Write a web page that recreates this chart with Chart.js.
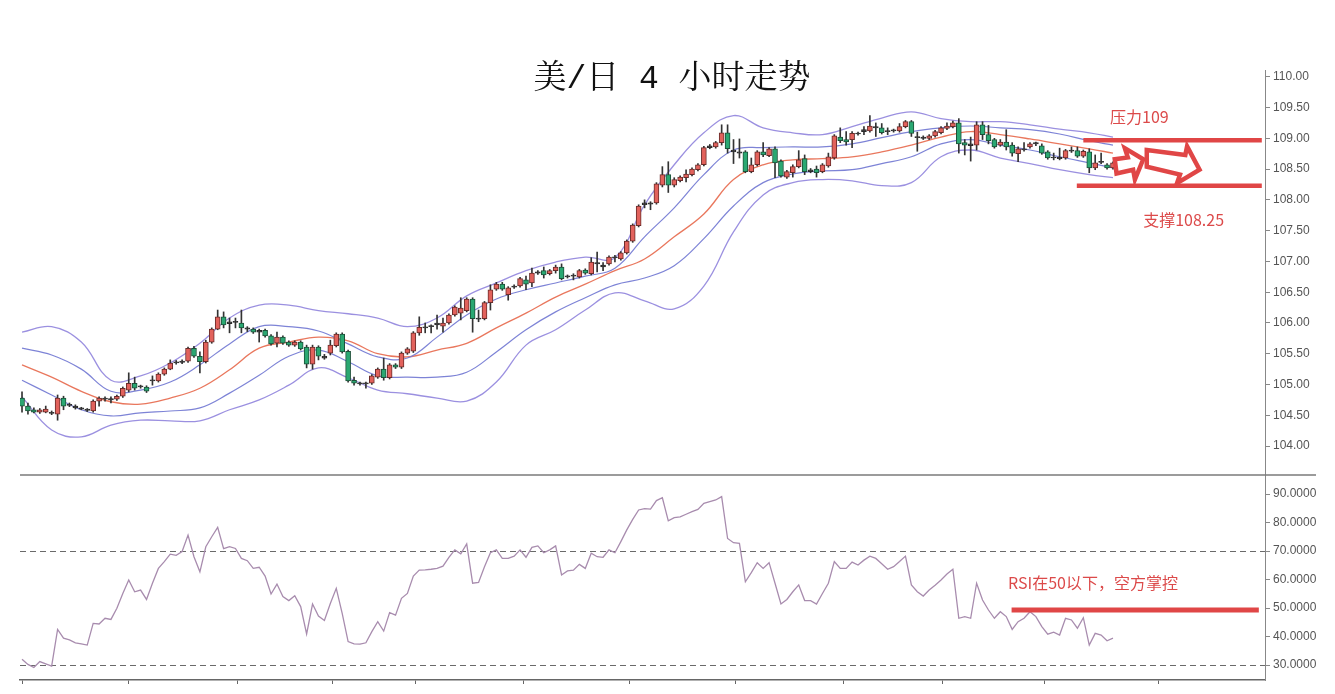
<!DOCTYPE html>
<html>
<head>
<meta charset="utf-8">
<script src="https://cdn.jsdelivr.net/npm/chart.js@4.4.0/dist/chart.umd.min.js"></script>
<style>
  body { margin: 0; background: #fff; width: 1335px; height: 694px; overflow: hidden; position: relative; }
  #priceChart { position: absolute; left: 0; top: 0; }
  #rsiChart { position: absolute; left: 0; top: 470px; }
</style>
</head>
<body>
<canvas id="priceChart" width="1335" height="475"></canvas>
<canvas id="rsiChart" width="1316" height="224"></canvas>
<script>
const chartTitle = '美/日 4 小时走势';

// 4 小时K线（索引 0..184）
const candleOpen = [
    104.78,104.65,104.59,104.55,104.55,104.55,104.52,104.78,104.68,104.65,
    104.62,104.60,104.57,104.73,104.76,104.77,104.76,104.81,104.91,105.02,
    104.96,104.96,105.06,105.06,105.17,105.25,105.35,105.36,105.38,105.59,
    105.46,105.37,105.69,105.90,106.10,105.99,106.01,106.00,105.92,105.90,
    105.88,105.88,105.79,105.67,105.77,105.69,105.64,105.69,105.61,105.33,
    105.61,105.46,105.51,105.63,105.82,105.54,105.07,105.02,105.01,105.02,
    105.12,105.25,105.11,105.32,105.28,105.51,105.54,105.84,105.92,105.94,
    105.97,105.95,106.00,106.13,106.16,106.20,106.39,106.06,106.07,106.33,
    106.55,106.63,106.46,106.58,106.60,106.70,106.65,106.81,106.85,106.80,
    106.85,106.91,106.75,106.76,106.75,106.86,106.80,106.98,106.94,106.96,
    107.07,107.04,107.14,107.33,107.58,107.92,107.95,107.95,108.24,108.41,
    108.24,108.31,108.36,108.41,108.49,108.57,108.85,108.86,108.93,109.09,
    108.81,108.78,108.78,108.46,108.57,108.78,108.72,108.83,108.63,108.37,
    108.44,108.54,108.67,108.49,108.50,108.46,108.55,108.68,109.02,108.98,
    108.98,109.07,109.11,109.12,109.19,109.17,109.12,109.12,109.12,109.19,
    109.27,109.03,109.02,109.00,109.04,109.09,109.16,109.19,109.25,108.93,
    108.91,108.89,109.22,109.06,108.98,108.89,108.94,108.89,108.75,108.83,
    108.86,108.91,108.88,108.78,108.68,108.69,108.68,108.79,108.80,108.71,
    108.78,108.52,108.61,108.57,108.52
];
const candleHigh = [
    104.88,104.70,104.62,104.61,104.65,104.57,104.83,104.81,104.70,104.67,
    104.63,104.61,104.75,104.80,104.80,104.80,104.83,104.96,105.19,105.12,
    104.99,104.98,105.14,105.19,105.27,105.40,105.39,105.40,105.61,105.62,
    105.53,105.72,105.92,106.21,106.18,106.08,106.08,106.21,105.94,105.92,
    105.90,105.90,105.81,105.85,105.79,105.71,105.71,105.71,105.64,105.64,
    105.63,105.49,105.72,105.84,105.84,105.56,105.12,105.04,105.04,105.16,
    105.27,105.43,105.34,105.34,105.53,105.60,105.86,106.10,106.00,105.97,
    106.13,106.08,106.15,106.28,106.41,106.41,106.41,106.21,106.35,106.62,
    106.66,106.66,106.59,106.62,106.74,106.76,106.89,106.85,106.91,106.87,
    106.94,106.96,106.78,106.80,106.87,106.88,107.06,107.15,106.98,107.09,
    107.10,107.16,107.35,107.61,107.92,108.00,107.97,108.28,108.54,108.62,
    108.36,108.39,108.49,108.52,108.59,108.87,108.90,108.95,109.22,109.22,
    108.98,108.99,108.80,108.68,108.80,108.93,108.85,108.86,108.65,108.48,
    108.57,108.80,108.73,108.51,108.55,108.59,108.76,109.06,109.17,109.11,
    109.11,109.10,109.19,109.37,109.25,109.24,109.17,109.15,109.24,109.29,
    109.29,109.10,109.04,109.06,109.13,109.19,109.25,109.28,109.32,108.98,
    109.02,109.27,109.27,109.21,109.00,108.98,109.14,108.93,108.86,108.93,
    108.93,108.94,108.91,108.80,108.76,108.84,108.82,108.86,108.86,108.81,
    108.83,108.73,108.76,108.59,108.62
];
const candleLow = [
    104.55,104.52,104.54,104.53,104.54,104.51,104.42,104.59,104.64,104.60,
    104.59,104.56,104.55,104.65,104.73,104.70,104.74,104.79,104.88,104.91,
    104.94,104.87,104.99,105.04,105.15,105.24,105.33,105.34,105.36,105.44,
    105.19,105.35,105.67,105.89,105.92,105.84,105.92,105.84,105.86,105.83,
    105.69,105.77,105.64,105.61,105.65,105.62,105.62,105.56,105.27,105.25,
    105.40,105.41,105.48,105.61,105.51,105.04,104.99,104.99,104.94,105.00,
    105.10,105.07,105.09,105.26,105.26,105.49,105.52,105.80,105.84,105.84,
    105.90,105.85,105.98,106.11,106.05,106.18,105.85,106.02,106.05,106.21,
    106.53,106.53,106.37,106.56,106.58,106.54,106.59,106.79,106.73,106.78,
    106.81,106.70,106.73,106.70,106.73,106.79,106.78,106.83,106.85,106.94,
    106.99,107.02,107.12,107.31,107.56,107.87,107.84,107.93,108.21,108.12,
    108.21,108.29,108.29,108.39,108.47,108.55,108.83,108.84,108.89,108.76,
    108.59,108.68,108.44,108.44,108.55,108.70,108.70,108.36,108.37,108.35,
    108.37,108.52,108.41,108.44,108.37,108.44,108.53,108.66,108.93,108.89,
    108.85,109.05,109.06,109.10,109.03,109.07,109.06,109.10,109.10,109.17,
    109.03,108.79,108.98,108.98,109.02,109.07,109.14,109.17,108.76,108.73,
    108.63,108.81,108.98,108.91,108.84,108.87,108.81,108.71,108.62,108.79,
    108.84,108.88,108.74,108.66,108.65,108.65,108.66,108.77,108.69,108.69,
    108.44,108.49,108.59,108.50,108.50
];
const candleClose = [
    104.65,104.57,104.55,104.59,104.60,104.53,104.78,104.65,104.66,104.62,
    104.60,104.58,104.73,104.78,104.78,104.75,104.81,104.94,105.02,104.94,
    104.98,104.89,105.07,105.17,105.25,105.35,105.37,105.38,105.59,105.46,
    105.37,105.69,105.90,106.10,105.97,106.02,106.02,105.92,105.90,105.85,
    105.85,105.79,105.66,105.77,105.67,105.64,105.69,105.58,105.33,105.61,
    105.46,105.43,105.64,105.82,105.53,105.06,105.02,105.01,105.02,105.14,
    105.25,105.11,105.32,105.28,105.51,105.58,105.84,105.93,105.93,105.95,
    106.00,106.00,106.13,106.26,106.24,106.39,106.07,106.08,106.33,106.54,
    106.63,106.55,106.57,106.60,106.72,106.63,106.81,106.83,106.78,106.85,
    106.91,106.72,106.76,106.77,106.85,106.81,106.99,106.96,106.91,107.07,
    107.06,107.14,107.33,107.59,107.90,107.95,107.93,108.26,108.41,108.24,
    108.33,108.37,108.42,108.50,108.57,108.85,108.88,108.93,109.09,108.83,
    108.78,108.76,108.46,108.57,108.78,108.73,108.83,108.60,108.39,108.46,
    108.54,108.65,108.46,108.46,108.44,108.57,108.70,109.04,108.96,108.94,
    109.08,109.08,109.14,109.20,109.17,109.09,109.11,109.13,109.19,109.27,
    109.08,109.01,109.00,109.04,109.11,109.17,109.20,109.25,108.91,108.89,
    108.88,109.22,109.06,108.96,108.86,108.94,108.86,108.76,108.83,108.81,
    108.91,108.93,108.76,108.68,108.69,108.67,108.80,108.81,108.71,108.79,
    108.52,108.60,108.62,108.52,108.60
];

// 布林带（按K线索引取样）
const bandIdx = [0,5,10,15,20,25,30,35,40,45,50,55,60,65,70,75,80,85,90,95,
    100,105,110,115,120,125,130,135,140,145,150,155,160,165,170,175,180,184];
const bandOuterUp = [105.85,105.94,105.69,105.07,105.14,105.35,105.67,106.08,106.29,106.29,
    106.20,106.15,106.08,105.94,106.08,106.44,106.65,106.85,106.99,107.07,
    107.06,107.92,108.57,109.09,109.37,109.17,109.09,109.06,109.19,109.33,
    109.43,109.32,109.27,109.27,109.22,109.15,109.09,109.02];
const bandInnerUp = [105.59,105.48,105.25,104.89,104.91,105.04,105.32,105.66,105.94,105.94,
    105.87,105.66,105.45,105.43,105.77,106.13,106.39,106.54,106.65,106.76,
    106.89,107.40,107.87,108.41,108.81,108.85,108.86,108.86,108.91,109.01,
    109.11,109.17,109.20,109.17,109.14,109.07,108.96,108.89];
const bandMid = [105.32,105.12,104.89,104.72,104.68,104.78,104.94,105.24,105.59,105.69,
    105.77,105.71,105.50,105.45,105.56,105.67,105.92,106.16,106.42,106.63,
    106.85,107.04,107.40,107.77,108.33,108.57,108.65,108.67,108.70,108.78,
    108.89,109.02,109.11,109.06,108.99,108.91,108.83,108.76];
const bandInnerLow = [105.07,104.83,104.59,104.49,104.54,104.57,104.62,104.86,105.15,105.46,
    105.56,105.37,105.14,105.12,105.12,105.20,105.53,105.89,106.18,106.41,
    106.62,106.73,106.93,107.37,107.90,108.28,108.42,108.47,108.49,108.59,
    108.70,108.91,108.98,108.89,108.81,108.70,108.60,108.52];
const bandOuterLow = [104.80,104.26,104.15,104.34,104.42,104.41,104.41,104.59,104.75,104.99,
    105.27,105.11,104.91,104.85,104.78,104.73,105.04,105.64,105.89,106.21,
    106.49,106.36,106.23,106.60,107.48,108.08,108.28,108.33,108.31,108.23,
    108.28,108.70,108.81,108.68,108.59,108.49,108.41,108.36];

// RSI
const rsiValues = [
    32.0,30.2,29.1,31.2,30.4,29.6,42.5,39.4,38.8,37.8,
    37.4,37.0,44.6,44.4,46.4,46.0,49.9,55.1,59.8,55.7,
    56.3,53.0,58.7,63.9,66.3,68.9,68.5,69.8,75.6,68.0,
    62.7,71.5,75.0,78.3,70.8,71.5,70.9,67.4,66.6,63.9,
    64.3,61.2,54.9,58.4,54.0,52.6,54.3,50.5,40.9,51.4,
    47.2,45.6,51.6,56.9,48.1,38.2,37.4,37.3,37.8,41.7,
    45.2,41.9,48.4,47.5,53.4,55.1,61.2,63.3,63.4,63.6,
    63.9,64.7,67.8,70.4,69.0,72.5,58.7,59.0,64.5,69.4,
    70.4,67.4,67.4,68.2,70.4,67.8,71.3,71.8,69.4,70.4,
    71.8,61.6,63.0,63.3,65.3,63.9,69.2,68.0,67.8,70.4,
    69.4,73.3,77.4,81.1,84.4,84.9,84.7,87.7,88.7,80.6,
    81.7,82.0,82.9,83.8,84.6,86.7,87.3,87.9,89.1,74.4,
    72.9,72.7,59.2,62.4,65.9,63.9,65.9,58.7,51.4,53.0,
    55.7,58.1,52.6,52.6,51.4,55.1,58.7,66.3,63.9,63.9,
    66.1,65.1,66.8,68.2,67.4,65.5,63.6,64.5,66.3,68.2,
    58.1,55.7,54.2,56.3,58.0,59.8,61.9,63.6,46.4,47.0,
    46.4,58.7,52.8,49.3,46.4,48.7,47.0,42.5,45.2,46.4,
    48.7,47.0,43.5,40.8,41.5,40.5,46.4,45.8,42.9,46.6,
    37.0,41.1,40.5,38.5,39.4
];

// 刻度
const priceTicks = [104.0,104.5,105.0,105.5,106.0,106.5,107.0,107.5,108.0,108.5,109.0,109.5,110.0];
const rsiTicks = [30,40,50,60,70,80,90];
const rsiGuides = [30,70];
const timeTickIdx = [0,18,36.3,52.3,66.3,84.5,102.4,120.3,138.5,155.3,172.5,191.6];

// 标注（K线索引, 价格/RSI）
const resistance = { text: '压力109', level: 108.97, from: 179.0, to: 209.1, labelAt: [183.5, 109.34] };
const support = { text: '支撑108.25', level: 108.23, from: 177.9, to: 209.1, labelAt: [189.1, 107.68] };
const rsiNote = { text: 'RSI在50以下，空方掌控', level: 49.3, from: 166.9, to: 208.6, labelAt: [166.3, 58.8] };
const arrowSmall = [[184.3,108.66],[186.5,108.69],[186.0,108.84],[189.1,108.66],[187.7,108.33],[187.4,108.49],[184.6,108.43]];
const arrowBig = [[189.7,108.81],[196.2,108.73],[196.5,108.87],[198.6,108.49],[194.8,108.27],[195.3,108.41],[189.7,108.54]];

const xMin = -0.34;
const xMax = 209.64;
const noteRed = '#e04646';
const textRed = '#dc4a4a';
const cjkFont = '"Noto Sans CJK SC", "Noto Sans", sans-serif';

function candleFill(i) {
    const d = candleClose[i] - candleOpen[i];
    if (Math.abs(d) < 0.035) return '#3a3a3a';
    return d > 0 ? '#e2625c' : '#2aa872';
}
function candleEdge(i) {
    const d = candleClose[i] - candleOpen[i];
    if (Math.abs(d) < 0.035) return '#2a2a2a';
    return d > 0 ? '#6a2c2a' : '#1d5038';
}

function bandLine(values, color, width) {
    return {
        type: 'line',
        data: bandIdx.map((x, k) => ({ x: x, y: values[k] })),
        borderColor: color,
        borderWidth: width,
        pointRadius: 0,
        tension: 0.4,
        fill: false,
        order: 3
    };
}

// 不为首尾刻度文字预留空间，图区边界按 layout.padding 定
function noEdgePadding(s) {
    s.paddingTop = 0;
    s.paddingBottom = 0;
}

const priceNotes = {
    id: 'priceNotes',
    afterDatasetsDraw(chart) {
        const { ctx } = chart;
        const x = chart.scales.x, y = chart.scales.y;
        ctx.save();

        ctx.fillStyle = '#111';
        ctx.font = '33px "Liberation Mono", "Noto Serif CJK SC", "Noto Sans CJK SC", serif';
        ctx.textAlign = 'center';
        ctx.textBaseline = 'middle';
        ctx.fillText(chartTitle, 672, 79);

        ctx.strokeStyle = noteRed;
        ctx.lineWidth = 4.5;
        [resistance, support].forEach(n => {
            ctx.beginPath();
            ctx.moveTo(x.getPixelForValue(n.from), y.getPixelForValue(n.level));
            ctx.lineTo(x.getPixelForValue(n.to), y.getPixelForValue(n.level));
            ctx.stroke();
        });

        [arrowSmall, arrowBig].forEach(shape => {
            ctx.beginPath();
            shape.forEach(([i, p], k) => {
                const px = x.getPixelForValue(i), py = y.getPixelForValue(p);
                if (k === 0) ctx.moveTo(px, py); else ctx.lineTo(px, py);
            });
            ctx.closePath();
            ctx.fillStyle = '#fff';
            ctx.fill();
            ctx.lineWidth = 4.5;
            ctx.lineJoin = 'miter';
            ctx.strokeStyle = noteRed;
            ctx.stroke();
        });

        ctx.fillStyle = textRed;
        ctx.font = '16px ' + cjkFont;
        ctx.textAlign = 'left';
        ctx.textBaseline = 'middle';
        [resistance, support].forEach(n => {
            ctx.fillText(n.text, x.getPixelForValue(n.labelAt[0]), y.getPixelForValue(n.labelAt[1]));
        });
        ctx.restore();
    }
};

const rsiNotes = {
    id: 'rsiNotes',
    afterDatasetsDraw(chart) {
        const { ctx, chartArea } = chart;
        const x = chart.scales.x, y = chart.scales.y;
        ctx.save();
        // 分隔线
        ctx.strokeStyle = '#7a7a7a';
        ctx.lineWidth = 1.5;
        ctx.beginPath();
        ctx.moveTo(chartArea.left, chartArea.top);
        ctx.lineTo(chart.width, chartArea.top);
        ctx.stroke();

        ctx.strokeStyle = noteRed;
        ctx.lineWidth = 5;
        ctx.beginPath();
        ctx.moveTo(x.getPixelForValue(rsiNote.from), y.getPixelForValue(rsiNote.level));
        ctx.lineTo(x.getPixelForValue(rsiNote.to), y.getPixelForValue(rsiNote.level));
        ctx.stroke();

        ctx.fillStyle = textRed;
        ctx.font = '16px ' + cjkFont;
        ctx.textAlign = 'left';
        ctx.textBaseline = 'middle';
        ctx.fillText(rsiNote.text, x.getPixelForValue(rsiNote.labelAt[0]), y.getPixelForValue(rsiNote.labelAt[1]));
        ctx.restore();
    }
};

const axisFont = { family: '"Liberation Sans", Arial, sans-serif', size: 12 };

const priceConfig = {
    type: 'bar',
    data: {
        datasets: [
            {
                data: candleOpen.map((o, i) => ({ x: i, y: [o, candleClose[i]] })),
                backgroundColor: candleOpen.map((o, i) => candleFill(i)),
                borderColor: candleOpen.map((o, i) => candleEdge(i)),
                borderWidth: 1,
                borderSkipped: false,
                barThickness: 5,
                minBarLength: 1,
                grouped: false,
                order: 1
            },
            {
                data: candleOpen.map((o, i) => ({ x: i, y: [candleLow[i], candleHigh[i]] })),
                backgroundColor: '#333',
                borderWidth: 0,
                barThickness: 1,
                grouped: false,
                order: 2
            },
            bandLine(bandOuterUp, 'rgba(150,138,222,0.95)', 1.3),
            bandLine(bandInnerUp, 'rgba(118,124,212,0.95)', 1.2),
            bandLine(bandMid, 'rgba(232,112,84,0.95)', 1.3),
            bandLine(bandInnerLow, 'rgba(118,124,212,0.95)', 1.2),
            bandLine(bandOuterLow, 'rgba(150,138,222,0.95)', 1.3)
        ]
    },
    options: {
        responsive: false,
        animation: false,
        layout: { padding: { top: 70, left: 20, right: 0, bottom: 0 } },
        plugins: { legend: { display: false }, tooltip: { enabled: false } },
        scales: {
            x: { type: 'linear', display: false, offset: false, min: xMin, max: xMax },
            y: {
                position: 'right',
                min: 103.53,
                max: 110.11,
                afterBuildTicks: s => { s.ticks = priceTicks.map(v => ({ value: v })); },
                afterFit: s => { s.width = 70; noEdgePadding(s); },
                ticks: { callback: v => Number(v).toFixed(2), font: axisFont, color: '#555', padding: 3 },
                grid: { drawOnChartArea: false, tickLength: 5, color: '#888' },
                border: { color: '#888' }
            }
        }
    },
    plugins: [priceNotes]
};

const rsiConfig = {
    type: 'line',
    data: {
        datasets: [{
            data: rsiValues.map((v, i) => ({ x: i, y: v })),
            borderColor: '#a88cae',
            borderWidth: 1.3,
            pointRadius: 0,
            tension: 0,
            fill: false
        }]
    },
    options: {
        responsive: false,
        animation: false,
        layout: { padding: { top: 5, left: 20, right: 0, bottom: 0 } },
        plugins: { legend: { display: false }, tooltip: { enabled: false } },
        scales: {
            x: {
                type: 'linear', offset: false, min: xMin, max: xMax,
                afterBuildTicks: s => { s.ticks = timeTickIdx.map(v => ({ value: v })); },
                afterFit: s => { s.height = 14; },
                ticks: { display: false },
                grid: { drawOnChartArea: false, tickLength: 4, color: '#666' },
                border: { color: '#666', width: 1.5 }
            },
            y: {
                position: 'right',
                min: 24.74,
                max: 96.67,
                afterBuildTicks: s => { s.ticks = rsiTicks.map(v => ({ value: v })); },
                afterFit: s => { s.width = 51; noEdgePadding(s); },
                ticks: { callback: v => Number(v).toFixed(4), font: axisFont, color: '#555', padding: 3 },
                grid: {
                    color: c => (c.tick && rsiGuides.includes(c.tick.value)) ? '#6a6a6a' : 'rgba(0,0,0,0)',
                    tickColor: '#888',
                    tickLength: 5
                },
                border: { color: '#888', dash: [6, 4] }
            }
        }
    },
    plugins: [rsiNotes]
};

new Chart(document.getElementById('priceChart'), priceConfig);
new Chart(document.getElementById('rsiChart'), rsiConfig);
</script>
</body>
</html>
